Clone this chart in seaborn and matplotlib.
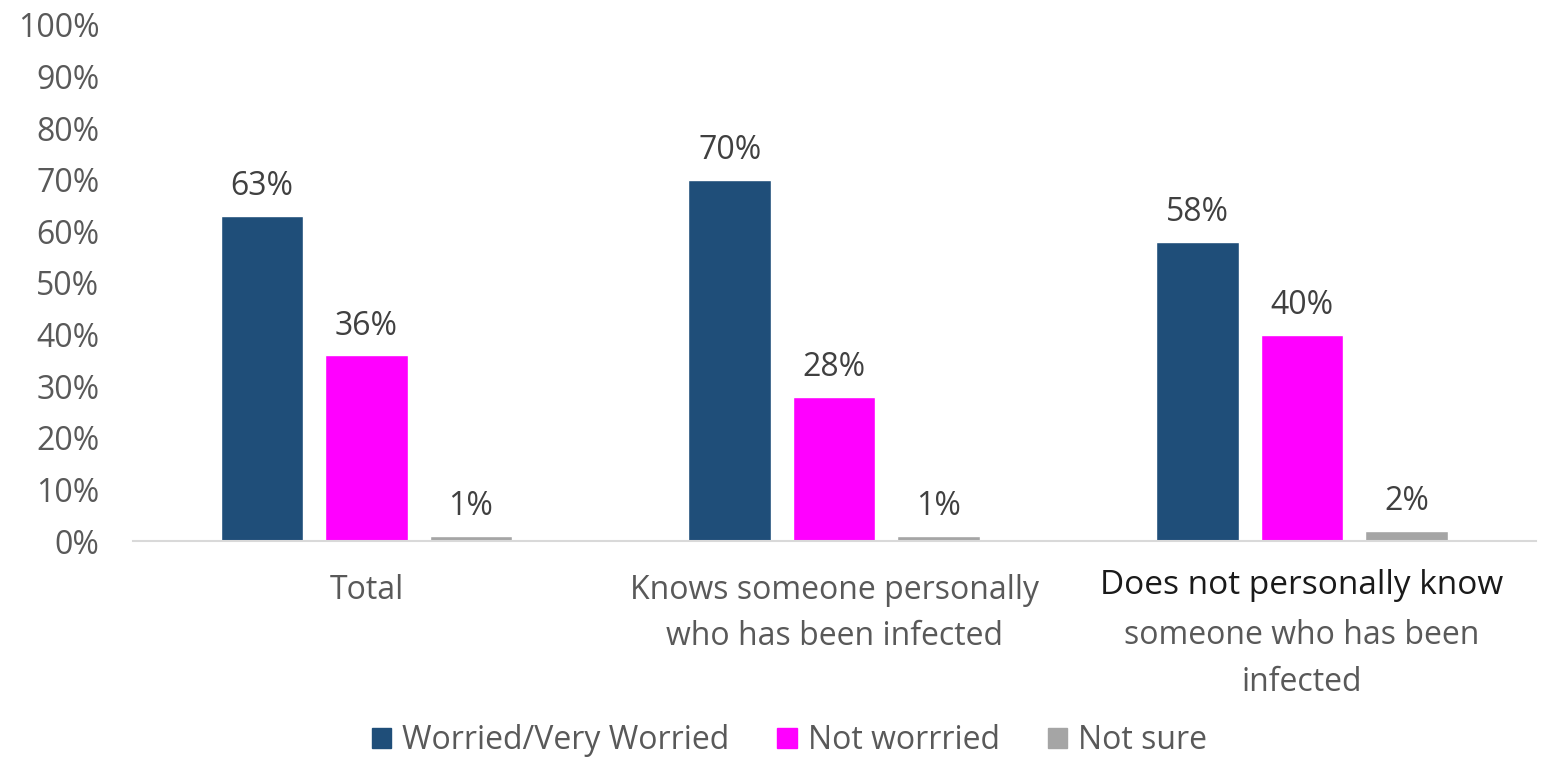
import matplotlib.pyplot as plt
import pandas as pd
import seaborn as sns

GROUPS = [
    "Total",
    "Knows someone personally\nwho has been infected",
    "Does not personally know\nsomeone who has been\ninfected",
]
SERIES = ["Worried/Very Worried", "Not worrried", "Not sure"]
WORRIED = [63, 70, 58]
NOT_WORRIED = [36, 28, 40]
NOT_SURE = [1, 1, 2]
COLORS = ["#1F4E79", "#FF00FF", "#A5A5A5"]
Y_TICKS = list(range(0, 101, 10))

TICK_GREY = "#595959"
LABEL_DARK = "#404040"


def _long_frame() -> pd.DataFrame:
    rows = []
    for name, values in zip(SERIES, [WORRIED, NOT_WORRIED, NOT_SURE]):
        for grp, val in zip(GROUPS, values):
            rows.append({"group": grp, "series": name, "value": val})
    return pd.DataFrame(rows)


def main() -> None:
    sns.set_theme(style="white")
    plt.rcParams["font.family"] = ["Open Sans", "DejaVu Sans"]

    df = _long_frame()
    fig = plt.figure(figsize=(15.42, 7.66), dpi=100)
    ax = fig.add_axes([0.086, 0.2937, 0.91, 0.6737])

    sns.barplot(
        data=df, x="group", y="value", hue="series", order=GROUPS, hue_order=SERIES,
        palette=COLORS, width=0.67, gap=0.21, saturation=1, ax=ax, legend=False,
    )

    for cont in ax.containers:
        ax.bar_label(cont, labels=[f"{v:.0f}%" for v in cont.datavalues],
                     padding=9, fontsize=23, color=LABEL_DARK)

    ax.set_xlim(-0.5, 2.5)
    ax.set_ylim(0, 100)
    ax.set_yticks(Y_TICKS)
    ax.set_yticklabels([f"{t}%" for t in Y_TICKS])
    ax.set_xlabel("")
    ax.set_ylabel("")

    # the third label is drawn by hand: its first line is darker in the original
    tick_labels = [GROUPS[0], GROUPS[1], ""]
    ax.set_xticks(range(len(GROUPS)))
    ax.set_xticklabels(tick_labels, linespacing=1.5)
    ax.tick_params(axis="x", length=0, pad=24, labelsize=23, labelcolor=TICK_GREY)
    ax.tick_params(axis="y", length=0, pad=24, labelsize=23, labelcolor=TICK_GREY)

    third = GROUPS[2].split("\n")
    xform = ax.get_xaxis_transform()
    ax.text(2, -0.086, third[0], transform=xform, ha="center", va="center",
            fontsize=24, color="#1a1a1a")
    ax.text(2, -0.184, third[1], transform=xform, ha="center", va="center",
            fontsize=23, color=TICK_GREY)
    ax.text(2, -0.275, third[2], transform=xform, ha="center", va="center",
            fontsize=23, color=TICK_GREY)

    for side in ["top", "right", "left"]:
        ax.spines[side].set_visible(False)
    ax.spines["bottom"].set_color("#D9D9D9")
    ax.spines["bottom"].set_linewidth(1.5)

    handles = [plt.Rectangle((0, 0), 1, 1, color=c) for c in COLORS]
    fig.legend(
        handles, SERIES, loc="lower center", bbox_to_anchor=(0.512, -0.026), ncol=3,
        frameon=False, fontsize=23, handlelength=0.6, handleheight=0.6,
        handletextpad=0.35, columnspacing=1.5, labelcolor=TICK_GREY,
    )

    fig.savefig("out.png", dpi=100)
    plt.close(fig)


if __name__ == "__main__":
    main()
